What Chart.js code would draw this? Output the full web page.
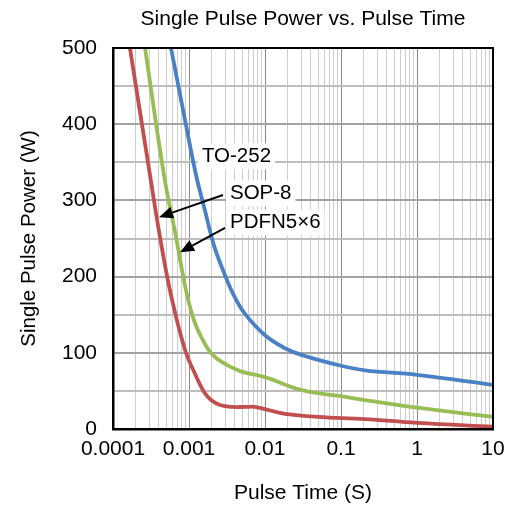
<!DOCTYPE html>
<html><head><meta charset="utf-8">
<script src="https://cdn.jsdelivr.net/npm/chart.js@4"></script>
<style>html,body{margin:0;padding:0;background:#fff}#wrap{width:515px;height:506px}</style>
</head><body><div id="wrap"><canvas id="c" width="515" height="506"></canvas></div>
<script>
// ---- data ----
const xTickLabels = ['0.0001', '0.001', '0.01', '0.1', '1', '10'];
const xTickValues = [0.0001, 0.001, 0.01, 0.1, 1, 10];
const yTickLabels = ['0', '100', '200', '300', '400', '500'];
const yTickValues = [0, 100, 200, 300, 400, 500];
const seriesNames = ['TO-252', 'SOP-8', 'PDFN5×6'];

const timeTO252  = [0.000579, 0.000942, 0.00124, 0.00162, 0.00213, 0.00289, 0.00391, 0.00546, 0.01, 0.0183, 0.0307, 0.1, 0.207, 1, 10];
const powerTO252 = [500, 392, 333, 287, 241, 205, 175, 151, 123, 106, 97, 83, 77, 71, 58];

const timePDFN  = [0.000264, 0.000469, 0.000674, 0.000913, 0.00116, 0.00148, 0.00201, 0.0028, 0.00469, 0.01, 0.0307, 0.1, 0.207, 1, 10];
const powerPDFN = [500, 333, 252, 182, 143, 119, 98, 87, 76, 68, 51, 43, 38, 28, 16];

const timeSOP8  = [0.000167, 0.000307, 0.000415, 0.000579, 0.000886, 0.00127, 0.00157, 0.00195, 0.00256, 0.00368, 0.0055, 0.0074, 0.0109, 0.0183, 0.0498, 0.207, 1, 10];
const powerSOP8 = [500, 333, 252, 176, 104, 67, 49, 38, 31.5, 29, 29, 29, 25, 20, 16, 13, 8, 3];

// annotations (data coordinates)
const annotText  = ['TO-252', 'SOP-8', 'PDFN5×6'];
const annotTime  = [0.00148, 0.00346, 0.00346];
const annotPower = [358, 309, 271];
const arrowFromTime  = [0.0028, 0.00298];
const arrowFromPower = [307, 264];
const arrowToTime    = [0.000403, 0.000762];
const arrowToPower   = [278, 232];

// ---- chart ----
const FONT = "'Liberation Sans', Arial, Helvetica, sans-serif";
const isPow10 = v => Math.abs(Math.log10(v) - Math.round(Math.log10(v))) < 1e-9;
const xGrid = [];
xTickValues.forEach((d, i) => {
  if (i < xTickValues.length - 1) { for (let k = 1; k <= 9; k++) xGrid.push(d * k); }
  else xGrid.push(d);
});

function pts(t, p) { return t.map((v, i) => ({ x: v, y: p[i] })); }

const annotPlugin = {
  id: 'annot',
  afterDatasetsDraw(chart) {
    const { ctx, scales: { x, y } } = chart;
    ctx.save();
    ctx.font = '20.5px ' + FONT;
    ctx.textBaseline = 'middle';
    ctx.textAlign = 'left';
    annotText.forEach((t, i) => {
      const px = x.getPixelForValue(annotTime[i]);
      const py = y.getPixelForValue(annotPower[i]);
      const w = ctx.measureText(t).width;
      ctx.fillStyle = '#fff';
      ctx.fillRect(px - 4, py - 13, w + 8, 26);
    });
    ctx.strokeStyle = '#000'; ctx.fillStyle = '#000'; ctx.lineWidth = 2;
    arrowFromTime.forEach((t, i) => {
      const x0 = x.getPixelForValue(t), y0 = y.getPixelForValue(arrowFromPower[i]);
      const x1 = x.getPixelForValue(arrowToTime[i]), y1 = y.getPixelForValue(arrowToPower[i]);
      const a = Math.atan2(y1 - y0, x1 - x0);
      const L = 14, W = 6;
      const bx = x1 - L * Math.cos(a), by = y1 - L * Math.sin(a);
      ctx.beginPath(); ctx.moveTo(x0, y0); ctx.lineTo(bx, by); ctx.stroke();
      ctx.beginPath();
      ctx.moveTo(x1, y1);
      ctx.lineTo(bx + W * Math.sin(a), by - W * Math.cos(a));
      ctx.lineTo(bx - W * Math.sin(a), by + W * Math.cos(a));
      ctx.closePath(); ctx.fill();
    });
    ctx.fillStyle = '#000';
    annotText.forEach((t, i) => {
      ctx.fillText(t, x.getPixelForValue(annotTime[i]), y.getPixelForValue(annotPower[i]));
    });
    ctx.restore();
  },
  afterDraw(chart) {
    const { ctx, chartArea: a } = chart;
    ctx.save();
    ctx.strokeStyle = '#000'; ctx.lineWidth = 2;
    ctx.strokeRect(a.left, a.top, a.right - a.left, a.bottom - a.top);
    ctx.restore();
  }
};

new Chart(document.getElementById('c'), {
  type: 'line',
  data: {
    datasets: [
      { label: seriesNames[0], data: pts(timeTO252, powerTO252), borderColor: '#4a80c4' },
      { label: seriesNames[1], data: pts(timeSOP8, powerSOP8), borderColor: '#c24f4f' },
      { label: seriesNames[2], data: pts(timePDFN, powerPDFN), borderColor: '#98bd55' }
    ].map(d => Object.assign(d, { borderWidth: 3.8, pointRadius: 0, fill: false, tension: 0.4, borderCapStyle: 'round', borderJoinStyle: 'round' }))
  },
  options: {
    responsive: false,
    animation: false,
    devicePixelRatio: 1,
    layout: { padding: { left: 0, right: 22, top: 0, bottom: 0 } },
    plugins: {
      legend: { display: false },
      tooltip: { enabled: false },
      title: {
        display: true, fullSize: false, text: 'Single Pulse Power vs. Pulse Time', color: '#000',
        font: { family: FONT, size: 21, weight: 'normal', lineHeight: 1.2 },
        padding: { top: 6.4, bottom: 16.4 }
      }
    },
    scales: {
      x: {
        type: 'logarithmic', min: xTickValues[0], max: xTickValues[xTickValues.length - 1],
        afterBuildTicks: s => { s.ticks = xGrid.map(v => ({ value: v })); },
        afterFit: s => { s.height = 77; },
        grid: { drawTicks: false, lineWidth: 1, color: c => isPow10(c.tick.value) ? '#8a8a8a' : '#cdcdcd' },
        border: { color: '#000', width: 2.5 },
        ticks: {
          autoSkip: false, maxRotation: 0, minRotation: 0, padding: 8, color: '#000',
          font: { family: FONT, size: 21 },
          callback: v => { const i = xTickValues.findIndex(t => Math.abs(t - v) / t < 1e-9); return i >= 0 ? xTickLabels[i] : ''; }
        },
        title: { display: true, text: 'Pulse Time (S)', color: '#000', font: { family: FONT, size: 21 }, padding: { top: 0.5, bottom: 0 } }
      },
      y: {
        min: 0, max: 500,
        afterFit: s => { s.width = 113; },
        grid: { drawTicks: false, lineWidth: 2, color: c => c.tick.value % 100 === 0 ? '#a3a3a3' : '#bdbdbd' },
        border: { color: '#000', width: 2.5 },
        ticks: {
          stepSize: 50, padding: 16, color: '#000', font: { family: FONT, size: 21 },
          callback: v => { const i = yTickValues.indexOf(v); return i >= 0 ? yTickLabels[i] : ''; }
        },
        title: { display: true, text: 'Single Pulse Power (W)', color: '#000', font: { family: FONT, size: 20.5 }, padding: { top: 17.5, bottom: 0 } }
      }
    }
  },
  plugins: [annotPlugin]
});
</script></body></html>
